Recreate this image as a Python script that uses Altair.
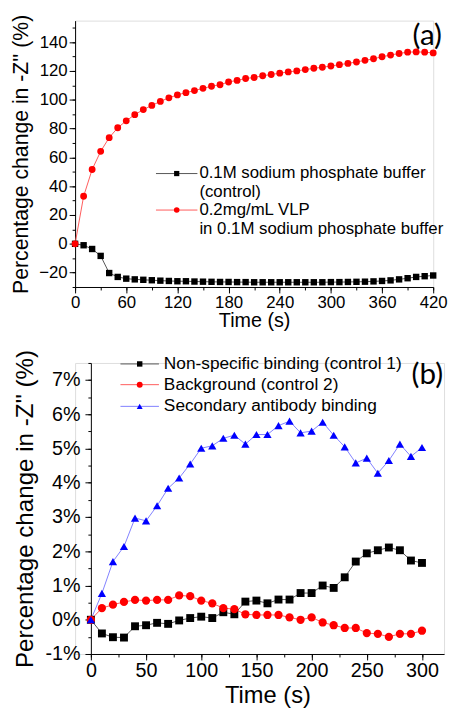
import altair as alt
import pandas as pd

# ---------------- panel (a) data ----------------
time_a = list(range(0, 421, 10))
control_a = [0, -1.0, -3.6, -8.4, -20.3, -23.0, -24.2, -24.7, -25.0, -25.3,
             -25.6, -25.8, -26.0, -26.0, -26.2, -26.3, -26.4, -26.5, -26.5, -26.6,
             -26.6, -26.7, -26.7, -26.7, -26.7, -26.7, -26.7, -26.7, -26.7, -26.7,
             -26.6, -26.6, -26.5, -26.4, -26.3, -26.1, -25.8, -25.4, -24.7, -23.9,
             -23.0, -22.5, -22.0]
vlp_a = [0, 33.0, 51.6, 64.2, 73.7, 80.6, 85.4, 89.7, 93.2, 96.1,
         98.9, 101.4, 103.4, 105.0, 106.4, 108.0, 109.4, 110.5, 112.4, 113.5,
         114.8, 115.5, 116.7, 117.6, 118.5, 119.4, 120.1, 121.0, 121.9, 122.6,
         123.5, 124.4, 125.3, 126.3, 127.4, 128.5, 129.9, 131.1, 132.2, 133.1,
         133.3, 133.1, 132.6]
xa_major_ticks = [0, 60, 120, 180, 240, 300, 360, 420]
xa_minor_ticks = list(range(0, 421, 30))
ya_major_ticks = [-20, 0, 20, 40, 60, 80, 100, 120, 140]
ya_minor_ticks = list(range(-30, 151, 10))
legend_a = [["0.1M sodium phosphate buffer", "(control)"],
            ["0.2mg/mL VLP", "in 0.1M sodium phosphate buffer"]]

# ---------------- panel (b) data ----------------
time_b = list(range(0, 301, 10))
nonspecific_b = [0, -0.40, -0.51, -0.52, -0.19, -0.16, -0.09, -0.12, -0.02, 0.05,
                 0.09, 0.05, 0.22, 0.16, 0.53, 0.56, 0.48, 0.59, 0.59, 0.78,
                 0.78, 1.00, 0.93, 1.24, 1.70, 1.94, 2.03, 2.11, 2.03, 1.73, 1.66]
background_b = [0, 0.34, 0.44, 0.52, 0.58, 0.56, 0.58, 0.58, 0.71, 0.69,
                0.56, 0.48, 0.34, 0.31, 0.16, 0.14, 0.14, 0.14, 0.07, 0.00,
                0.07, -0.08, -0.16, -0.24, -0.24, -0.39, -0.41, -0.50, -0.41, -0.41, -0.32]
secondary_b = [0, 0.77, 1.70, 2.14, 2.97, 2.89, 3.33, 3.84, 4.14, 4.55,
               5.01, 5.08, 5.30, 5.39, 5.13, 5.41, 5.41, 5.67, 5.80, 5.46,
               5.51, 5.77, 5.39, 5.05, 4.58, 4.72, 4.28, 4.65, 5.13, 4.77, 5.03]
xb_major_ticks = [0, 50, 100, 150, 200, 250, 300]
xb_minor_ticks = list(range(0, 321, 25))
yb_major_ticks = [-1, 0, 1, 2, 3, 4, 5, 6, 7]
yb_minor_ticks = [v / 2 for v in range(-2, 16)]
legend_b = ["Non-specific binding (control 1)", "Background (control 2)",
            "Secondary antibody binding"]

FONT = "Liberation Sans"
TAG_FONT = "Lato"
Y_TITLE = "Percentage change in -Z'' (%)"
X_TITLE = "Time (s)"
SHIFT_B = 16  # panel (b) y-axis sits further right than panel (a)'s

one = pd.DataFrame({"k": [0]})

common = dict(grid=False, domainColor="black", tickColor="black", labelColor="black",
              titleColor="black", labelFont=FONT, titleFont=FONT,
              titleFontWeight="normal", domainWidth=1, tickWidth=1)


def minor_axis(orient, values, offset=0):
    return alt.Axis(orient=orient, values=values, tickSize=3, labels=False,
                    domain=False, grid=False, tickColor="black", tickWidth=1,
                    offset=offset)


def legend_entry(x0, x1, y, line_color, shape, color, size, lines, tx, gap, fs):
    layers = [
        alt.Chart(one).mark_rule(color=line_color, strokeWidth=1).encode(
            x=alt.value(x0), x2=alt.value(x1), y=alt.value(y)),
        alt.Chart(one).mark_point(shape=shape, filled=True, size=size, color=color,
                                  opacity=1).encode(
            x=alt.value((x0 + x1) / 2), y=alt.value(y)),
    ]
    for i, line in enumerate(lines):
        layers.append(alt.Chart(one).mark_text(
            align="left", baseline="middle", font=FONT, fontSize=fs, color="black").encode(
            x=alt.value(tx), y=alt.value(y + i * gap), text=alt.value(line)))
    return layers


# ---------------- panel (a) ----------------
df_a = pd.DataFrame({"t": time_a, "control": control_a, "vlp": vlp_a})
xa = alt.Scale(domain=[0, 420], nice=False, zero=False)
ya = alt.Scale(domain=[-30, 155], nice=False, zero=False)
xa_axis = alt.Axis(orient="bottom", values=xa_major_ticks, tickSize=6, labelFontSize=17,
                   labelPadding=2, titleFontSize=20, titlePadding=0, labelFlush=False,
                   **common)
ya_axis = alt.Axis(orient="left", values=ya_major_ticks, tickSize=6, labelFontSize=17,
                   labelPadding=2, titleFontSize=21.5, titlePadding=6, **common)

a_layers = [
    alt.Chart(df_a).mark_line(color="#555555", strokeWidth=1).encode(
        x=alt.X("t:Q", scale=xa, axis=xa_axis, title=X_TITLE),
        y=alt.Y("control:Q", scale=ya, axis=ya_axis, title=Y_TITLE)),
    alt.Chart(df_a).mark_line(color="#ff5a5a", strokeWidth=1).encode(
        x=alt.X("t:Q", scale=xa, axis=None), y=alt.Y("vlp:Q", scale=ya, axis=None)),
    alt.Chart(df_a).mark_point(shape="square", filled=True, size=42, color="black",
                               opacity=1).encode(
        x=alt.X("t:Q", scale=xa, axis=None), y=alt.Y("control:Q", scale=ya, axis=None)),
    alt.Chart(df_a).mark_point(shape="circle", filled=True, size=48, color="#ff0000",
                               opacity=1).encode(
        x=alt.X("t:Q", scale=xa, axis=None), y=alt.Y("vlp:Q", scale=ya, axis=None)),
    alt.Chart(df_a).mark_point(opacity=0).encode(
        x=alt.X("t:Q", scale=xa, axis=minor_axis("bottom", xa_minor_ticks), title=None),
        y=alt.Y("control:Q", scale=ya, axis=minor_axis("left", ya_minor_ticks), title=None)),
]
a_layers += legend_entry(82, 124, 155, "#555555", "square", "black", 28,
                         legend_a[0], 126, 18.5, 17)
a_layers += legend_entry(82, 124, 192, "#ff5a5a", "circle", "#ff0000", 32,
                         legend_a[1], 126, 19, 17)
a_layers.append(alt.Chart(one).mark_text(font=TAG_FONT, fontSize=30, align="center",
                                         baseline="middle", color="black").encode(
    x=alt.value(357), y=alt.value(16), text=alt.value("(a)")))

panel_a = alt.layer(*a_layers).resolve_axis(x="independent", y="independent").properties(
    width=363, height=270)

# ---------------- panel (b) ----------------
df_b = pd.DataFrame({"t": time_b, "ns": nonspecific_b, "bg": background_b,
                     "sec": secondary_b})
WB = 374
xb = alt.Scale(domain=[0, 320], range=[SHIFT_B, WB], nice=False, zero=False)
yb = alt.Scale(domain=[-1, 7.5], nice=False, zero=False)
xb_axis = alt.Axis(orient="bottom", values=xb_major_ticks, tickSize=6, labelFontSize=20,
                   labelPadding=1, titleFontSize=24, titlePadding=3, labelFlush=False,
                   **common)
yb_axis = alt.Axis(orient="left", values=yb_major_ticks, tickSize=6, labelFontSize=20,
                   labelPadding=5, titleFontSize=24.5, titlePadding=8, offset=-SHIFT_B,
                   labelExpr="datum.value + '%'", **common)

b_layers = [
    alt.Chart(df_b).mark_line(color="#555555", strokeWidth=1).encode(
        x=alt.X("t:Q", scale=xb, axis=xb_axis, title=X_TITLE),
        y=alt.Y("ns:Q", scale=yb, axis=yb_axis, title=Y_TITLE)),
    alt.Chart(df_b).mark_line(color="#ff5a5a", strokeWidth=1).encode(
        x=alt.X("t:Q", scale=xb, axis=None), y=alt.Y("bg:Q", scale=yb, axis=None)),
    alt.Chart(df_b).mark_line(color="#8080ff", strokeWidth=1).encode(
        x=alt.X("t:Q", scale=xb, axis=None), y=alt.Y("sec:Q", scale=yb, axis=None)),
    alt.Chart(df_b).mark_point(shape="square", filled=True, size=64, color="black",
                               opacity=1).encode(
        x=alt.X("t:Q", scale=xb, axis=None), y=alt.Y("ns:Q", scale=yb, axis=None)),
    alt.Chart(df_b).mark_point(shape="circle", filled=True, size=70, color="#ff0000",
                               opacity=1).encode(
        x=alt.X("t:Q", scale=xb, axis=None), y=alt.Y("bg:Q", scale=yb, axis=None)),
    alt.Chart(df_b).mark_point(shape="triangle-up", filled=True, size=70, color="#0000ff",
                               opacity=1).encode(
        x=alt.X("t:Q", scale=xb, axis=None), y=alt.Y("sec:Q", scale=yb, axis=None)),
    alt.Chart(df_b).mark_point(opacity=0).encode(
        x=alt.X("t:Q", scale=xb, axis=minor_axis("bottom", xb_minor_ticks), title=None),
        y=alt.Y("ns:Q", scale=yb,
                axis=minor_axis("left", yb_minor_ticks, offset=-SHIFT_B), title=None)),
]
b_layers += legend_entry(30 + SHIFT_B, 69 + SHIFT_B, 1, "#555555", "square", "black", 30,
                         [legend_b[0]], 74 + SHIFT_B, 0, 17.5)
b_layers += legend_entry(30 + SHIFT_B, 69 + SHIFT_B, 22, "#ff5a5a", "circle", "#ff0000", 36,
                         [legend_b[1]], 74 + SHIFT_B, 0, 17.5)
b_layers += legend_entry(30 + SHIFT_B, 69 + SHIFT_B, 44, "#8080ff", "triangle-up", "#0000ff",
                         36, [legend_b[2]], 74 + SHIFT_B, 0, 17.5)
b_layers.append(alt.Chart(one).mark_text(font=TAG_FONT, fontSize=30, align="center",
                                         baseline="middle", color="black").encode(
    x=alt.value(357), y=alt.value(12), text=alt.value("(b)")))

panel_b = alt.layer(*b_layers).resolve_axis(x="independent", y="independent").properties(
    width=WB, height=295)

chart = alt.vconcat(panel_a, panel_b, spacing=17).properties(
    padding={"left": 2, "top": 0, "right": 0, "bottom": 0},
    background="white",
).configure_view(stroke="transparent").configure(font=FONT)

chart.save("out.html", embed_options={"renderer": "svg", "actions": False})
